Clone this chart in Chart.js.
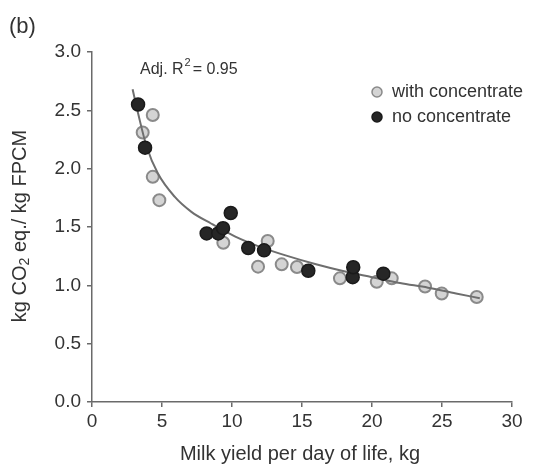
<!DOCTYPE html>
<html>
<head>
<meta charset="utf-8">
<script src="https://cdn.jsdelivr.net/npm/chart.js@4.4.1/dist/chart.umd.min.js"></script>
<style>
    body { margin: 0; background: #fff; }
</style>
</head>
<body>
<canvas id="milkChart" width="554" height="467"></canvas>
<script>
// values
const withConcX = [3.62, 4.34, 4.34, 4.81, 9.38, 11.86, 12.55, 13.55, 14.64, 17.71, 20.34, 21.41, 23.79, 24.98, 27.48];
const withConcY = [2.31, 2.46, 1.93, 1.73, 1.365, 1.16, 1.38, 1.18, 1.157, 1.06, 1.03, 1.06, 0.99, 0.93, 0.90];

const noConcX = [3.29, 3.79, 8.19, 9.02, 9.36, 9.91, 11.16, 12.29, 15.45, 18.62, 18.66, 20.81];
const noConcY = [2.55, 2.18, 1.445, 1.445, 1.49, 1.62, 1.32, 1.30, 1.125, 1.07, 1.155, 1.10];

// fitted curve
const fitX = [2.9, 3.3, 3.9, 4.7, 5.9, 7.1, 8.5, 10.2, 12, 14, 16, 18, 20, 22, 24, 26, 27.7];
const fitY = [2.68, 2.47, 2.19, 1.96, 1.76, 1.63, 1.53, 1.42, 1.33, 1.25, 1.18, 1.12, 1.07, 1.02, 0.98, 0.93, 0.89];

const seriesLabels = ['with concentrate', 'no concentrate'];
const xTitle = 'Milk yield per day of life, kg';

const FONT = "'Liberation Sans', Arial, sans-serif";
const TEXT = '#333';
const AXIS = '#6a6a6a';

function toPoints(xs, ys) {
    return xs.map((x, i) => ({ x: x, y: ys[i] }));
}

/**
 * Extra text: panel letter, R2 note, legend, axis titles
 */
const annotations = {
    id: 'annotations',
    afterDraw(chart) {
        const ctx = chart.ctx;
        ctx.save();
        ctx.fillStyle = TEXT;
        ctx.textBaseline = 'middle';

        ctx.font = '22px ' + FONT;
        ctx.textAlign = 'left';
        ctx.fillText('(b)', 9, 27);

        // Adj. R^2 = 0.95
        ctx.font = '16px ' + FONT;
        let x = 140;
        ctx.fillText('Adj. R', x, 70);
        x += ctx.measureText('Adj. R').width + 1;
        ctx.font = '11px ' + FONT;
        ctx.fillText('2', x, 63);
        x += ctx.measureText('2').width + 2;
        ctx.font = '16px ' + FONT;
        ctx.fillText('= 0.95', x, 70);

        // legend
        const rows = [
            { label: seriesLabels[0], fill: '#d4d4d4', stroke: '#8a8a8a', y: 92 },
            { label: seriesLabels[1], fill: '#262626', stroke: '#1a1a1a', y: 117 }
        ];
        ctx.font = '18px ' + FONT;
        rows.forEach(r => {
            ctx.beginPath();
            ctx.arc(377, r.y, 5, 0, Math.PI * 2);
            ctx.fillStyle = r.fill;
            ctx.fill();
            ctx.lineWidth = 1.5;
            ctx.strokeStyle = r.stroke;
            ctx.stroke();
            ctx.fillStyle = TEXT;
            ctx.fillText(r.label, 392, r.y);
        });

        // x title
        ctx.font = '20px ' + FONT;
        ctx.textAlign = 'center';
        ctx.fillText(xTitle, 300, 454);

        // y title with subscript 2
        ctx.translate(20, 226);
        ctx.rotate(-Math.PI / 2);
        const parts = [
            { t: 'kg CO', f: '20px ', dy: 0 },
            { t: '2', f: '14px ', dy: 5 },
            { t: ' eq./ kg FPCM', f: '20px ', dy: 0 }
        ];
        let total = 0;
        parts.forEach(p => { ctx.font = p.f + FONT; total += ctx.measureText(p.t).width; });
        ctx.textAlign = 'left';
        let px = -total / 2;
        parts.forEach(p => {
            ctx.font = p.f + FONT;
            ctx.fillText(p.t, px, p.dy);
            px += ctx.measureText(p.t).width;
        });
        ctx.restore();
    }
};

const chart = new Chart(document.getElementById('milkChart'), {
    type: 'scatter',
    data: {
        datasets: [
            {
                label: seriesLabels[0],
                data: toPoints(withConcX, withConcY),
                backgroundColor: '#d4d4d4',
                borderColor: '#8a8a8a',
                borderWidth: 2,
                pointRadius: 6,
                order: 3
            },
            {
                label: 'fit',
                type: 'line',
                data: toPoints(fitX, fitY),
                borderColor: '#6e6e6e',
                borderWidth: 2,
                pointRadius: 0,
                fill: false,
                cubicInterpolationMode: 'monotone',
                order: 2
            },
            {
                label: seriesLabels[1],
                data: toPoints(noConcX, noConcY),
                backgroundColor: '#262626',
                borderColor: '#1a1a1a',
                borderWidth: 1.5,
                pointRadius: 6.5,
                order: 1
            }
        ]
    },
    options: {
        responsive: false,
        animation: false,
        devicePixelRatio: 1,
        layout: { padding: { left: 0, top: 52, right: 42, bottom: 0 } },
        plugins: {
            legend: { display: false },
            tooltip: { enabled: false }
        },
        scales: {
            x: {
                type: 'linear',
                min: 0,
                max: 30,
                afterFit: s => { s.height = 65; },
                ticks: { stepSize: 5, color: TEXT, font: { family: FONT, size: 19 }, padding: 3, maxRotation: 0 },
                grid: { drawOnChartArea: false, tickLength: 5, color: AXIS, lineWidth: 1.5 },
                border: { color: AXIS, width: 1.5 }
            },
            y: {
                type: 'linear',
                min: 0,
                max: 3,
                afterFit: s => { s.width = 92; },
                ticks: {
                    stepSize: 0.5,
                    color: TEXT,
                    font: { family: FONT, size: 19 },
                    padding: 6,
                    callback: v => v.toFixed(1)
                },
                grid: { drawOnChartArea: false, tickLength: 5, color: AXIS, lineWidth: 1.5 },
                border: { color: AXIS, width: 1.5 }
            }
        }
    },
    plugins: [annotations]
});
</script>
</body>
</html>
